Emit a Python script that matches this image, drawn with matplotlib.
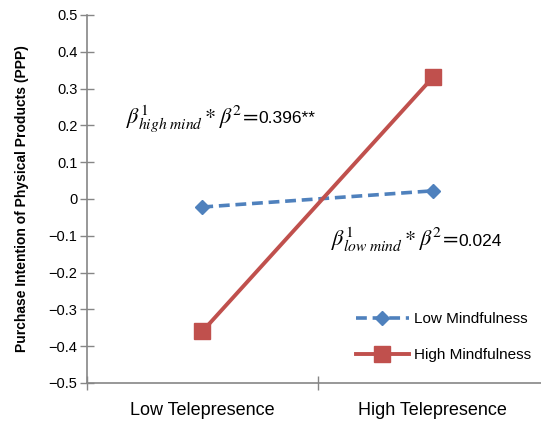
import matplotlib
matplotlib.use("Agg")
import matplotlib.pyplot as plt

categories = ["Low Telepresence", "High Telepresence"]
low_mind = [-0.022, 0.022]
high_mind = [-0.36, 0.33]
yticks = [-0.5, -0.4, -0.3, -0.2, -0.1, 0, 0.1, 0.2, 0.3, 0.4, 0.5]
ytick_labels = ["\u22120.5", "\u22120.4", "\u22120.3", "\u22120.2", "\u22120.1", "0",
                "0.1", "0.2", "0.3", "0.4", "0.5"]

plt.rcParams['font.family'] = ['Liberation Sans', 'DejaVu Sans']
plt.rcParams['mathtext.fontset'] = 'stix'

fig = plt.figure(figsize=(5.41, 4.26), dpi=100)
ax = fig.add_axes([0.161, 0.101, 0.839, 0.864])

x = [0, 1]
ax.plot(x, low_mind, color='#4F81BD', lw=2.6, ls=(0, (3, 1.6)), marker='D',
        markersize=7.5, label='Low Mindfulness')
ax.plot(x, high_mind, color='#C0504D', lw=2.8, ls='-', marker='s',
        markersize=11, label='High Mindfulness')

ax.set_xlim(-0.5, 1.47)
ax.set_ylim(-0.5, 0.5)
ax.set_yticks(yticks)
ax.set_yticklabels(ytick_labels, fontsize=10.5)
ax.set_xticks([-0.5, 0.5])
ax.set_xticklabels([])
ax.set_xticks(x, minor=True)
ax.set_xticklabels(categories, minor=True, fontsize=13)
ax.tick_params(axis='x', which='minor', length=0, pad=14)
ax.tick_params(axis='x', which='major', direction='inout', length=10, color='#868686', width=1)
ax.tick_params(axis='y', direction='inout', length=10, color='#868686', width=1, pad=2)

for s in ['top', 'right']:
    ax.spines[s].set_visible(False)
for s in ['left', 'bottom']:
    ax.spines[s].set_color('#868686')
    ax.spines[s].set_linewidth(1.2)

ax.set_ylabel('Purchase Intention of Physical Products (PPP)', fontsize=10,
              fontweight='bold', labelpad=14)

y1 = 0.205
t1 = ax.text(-0.33, y1, r'$\beta^{1}_{high\ mind} * \beta^{2}\!=\!$', fontsize=16,
             va='baseline', ha='left')
ax.annotate('0.396**', xy=(1, y1), xycoords=(t1, 'data'), xytext=(0, 0),
            textcoords='offset points', fontsize=12.5, va='baseline', ha='left')
y2 = -0.128
t2 = ax.text(0.56, y2, r'$\beta^{1}_{low\ mind} * \beta^{2}\!=\!$', fontsize=16,
             va='baseline', ha='left')
ax.annotate('0.024', xy=(1, y2), xycoords=(t2, 'data'), xytext=(0, 0),
            textcoords='offset points', fontsize=12.5, va='baseline', ha='left')

leg = ax.legend(loc='lower right', bbox_to_anchor=(1.008, 0.02), frameon=False,
                fontsize=11, handlelength=3.5, labelspacing=1.4, handletextpad=0.3)

fig.savefig('out.png', dpi=100)
